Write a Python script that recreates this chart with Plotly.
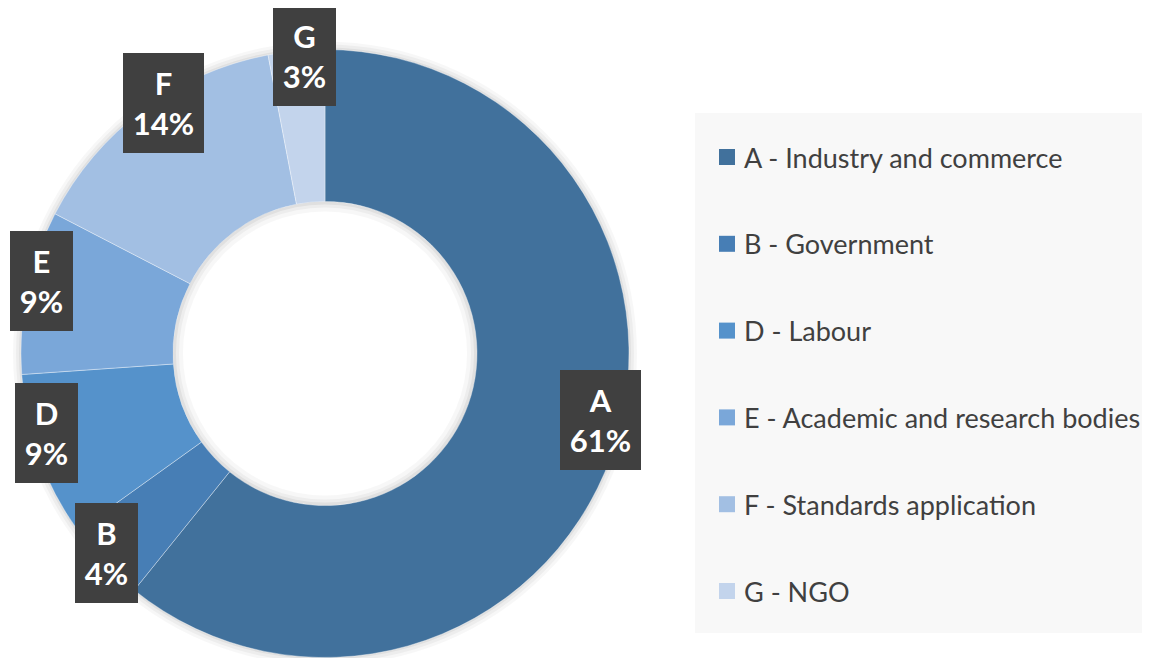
import math
import plotly.graph_objects as go

# ---------------------------- Data ---------------------------- #

codes = ["A", "B", "D", "E", "F", "G"]
names = [
    "Industry and commerce",
    "Government",
    "Labour",
    "Academic and research bodies",
    "Standards application",
    "NGO",
]
shares = [60.8, 4.3, 8.8, 8.7, 14.4, 3.0]
colors = ["#41719C", "#477EB5", "#5592CB", "#7AA7D9", "#A2BFE3", "#C3D4EC"]

# ---------------------------- Layout constants ---------------------------- #

W, H = 1150, 658
OFF = 8                           # page body margin, everything is shifted by it
CX, CY, R = 325 - OFF, 353.5 - OFF, 304
R_IN = 152
# label boxes: (angle nudge in deg, distance from centre in px)
LABEL_POS = {"A": (-5.8, 284), "B": (1.0, 296), "D": (3.9, 290),
             "E": (2.6, 293), "F": (3.8, 298), "G": (1.4, 298)}


def ring_domain(radius):
    return dict(x=[max(0, (CX - radius) / W), (CX + radius) / W],
                y=[max(0, (H - CY - radius) / H), min(1, (H - CY + radius) / H)])


fig = go.Figure()

# soft shadow around the doughnut
for extra, alpha in [(8, 0.03), (5, 0.04), (2, 0.05)]:
    fig.add_trace(go.Pie(
        values=[1], hole=(R - 4) / (R + extra), textinfo="none", sort=False,
        marker=dict(colors=[f"rgba(0,0,0,{alpha})"], line=dict(width=0)),
        domain=ring_domain(R + extra), showlegend=False, hoverinfo="skip",
    ))

fig.add_trace(go.Pie(
    labels=[f"{c} - {n}" for c, n in zip(codes, names)],
    values=shares,
    hole=R_IN / R,
    sort=False,
    direction="clockwise",
    rotation=0,
    textinfo="none",
    marker=dict(colors=colors, line=dict(color="rgba(255,255,255,0.45)", width=0.8)),
    domain=ring_domain(R),
    showlegend=False,
))

# faint inner shadow on the hole edge
for inset, alpha in [(10, 0.03), (6, 0.04), (3, 0.05)]:
    fig.add_trace(go.Pie(
        values=[1], hole=(R_IN - inset) / R_IN, textinfo="none", sort=False,
        marker=dict(colors=[f"rgba(0,0,0,{alpha})"], line=dict(width=0)),
        domain=ring_domain(R_IN), showlegend=False, hoverinfo="skip",
    ))

# Dark label boxes near each slice's mid angle
cum = 0.0
for code, val in zip(codes, shares):
    nudge, dist = LABEL_POS[code]
    mid = math.radians((cum + val / 2) / 100 * 360 + nudge)
    cum += val
    px = CX + dist * math.sin(mid)
    py = CY - dist * math.cos(mid)
    pct = f"{round(val)}%"
    fig.add_annotation(
        x=px / W, y=1 - py / H, xref="paper", yref="paper",
        xanchor="center", yanchor="middle",
        text=f"{code}<br>{pct}",
        showarrow=False,
        font=dict(family="Lato", size=31, color="white", weight="bold"),
        bgcolor="#404040",
        width=63 if len(pct) == 2 else 81,
        height=100,
        borderpad=0,
        borderwidth=0,
    )

# Legend drawn by hand so the item spacing matches
LEG_X0, LEG_Y0, LEG_Y1 = 695 - OFF, 113 - OFF, 633 - OFF
ITEM_Y0, ITEM_STEP = 157 - OFF, 86.8
fig.add_shape(type="rect", xref="paper", yref="paper",
              x0=LEG_X0 / W, x1=(1150 - OFF) / W, y0=1 - LEG_Y1 / H, y1=1 - LEG_Y0 / H,
              fillcolor="#F8F8F8", line=dict(width=0), layer="below")
for i, (code, name, col) in enumerate(zip(codes, names, colors)):
    yc = ITEM_Y0 + i * ITEM_STEP
    fig.add_shape(type="rect", xref="paper", yref="paper",
                  x0=(719 - OFF) / W, x1=(735 - OFF) / W,
                  y0=1 - (yc + 8) / H, y1=1 - (yc - 8) / H,
                  fillcolor=col, line=dict(width=0))
    fig.add_annotation(
        x=(742 - OFF) / W, y=1 - yc / H, xref="paper", yref="paper",
        xanchor="left", yanchor="middle",
        text=f"{code} - {name}", showarrow=False,
        font=dict(family="Lato", size=27, color="#404040"),
    )

fig.update_layout(
    width=W, height=H,
    margin=dict(l=0, r=0, t=0, b=0),
    paper_bgcolor="white",
    plot_bgcolor="white",
)

fig.write_html("out.html")
